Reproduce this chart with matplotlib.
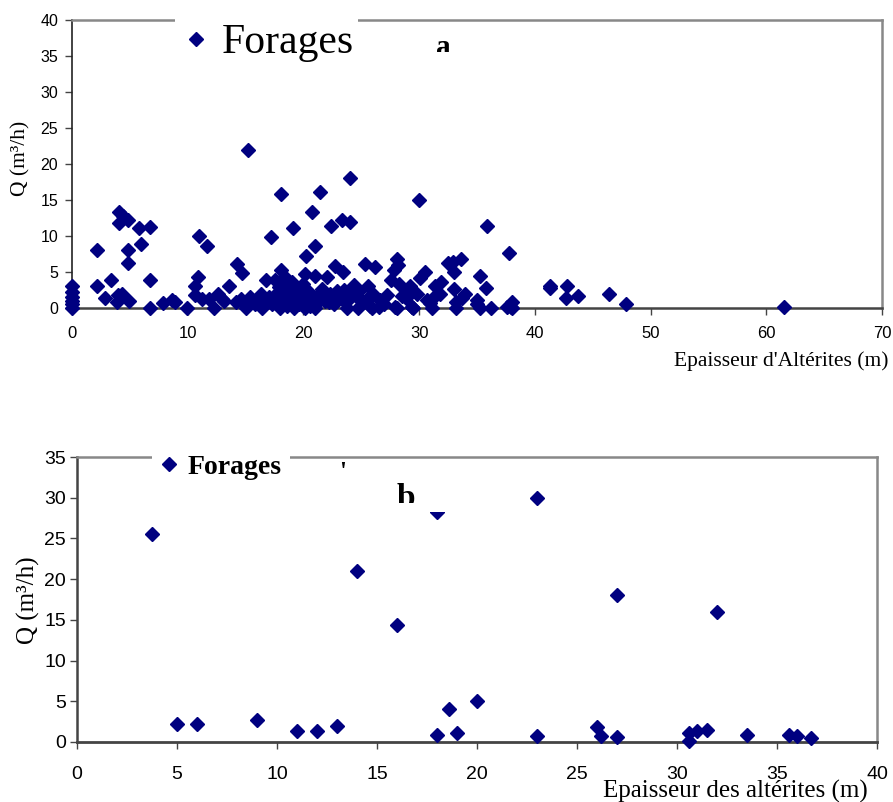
import matplotlib
matplotlib.use("Agg")
import matplotlib.pyplot as plt
from matplotlib.patches import Rectangle

# ---------------- data: chart a ----------------
xa = [0, 0, 0, 0, 0, 0,
      2.2, 2.2, 2.85, 3.4, 3.9, 4.0, 4.3, 4.4, 4.9, 4.1, 4.4, 4.1, 4.8, 4.8, 4.8,
      5.8, 6.7, 6.0, 6.7, 6.7, 7.9, 8.6, 8.9, 9.9,
      11.0, 11.7, 10.9, 10.6, 10.6, 11.2, 11.8, 12.6, 12.3, 13.1, 13.6, 13.0,
      14.3, 14.7, 15.2, 14.2, 14.6, 15.0, 15.05, 15.4, 15.8, 16.0, 16.4, 16.3,
      16.8, 17.5, 17.2, 17.0, 17.3, 17.8, 18.0, 18.1, 18.1, 18.3, 18.5, 18.2,
      18.4, 18.7, 18.9, 19.1, 19.2, 19.0, 19.4, 19.6, 19.8, 20.1, 20.1, 20.2,
      20.7, 20.3, 20.5, 20.8, 21.0, 21.0, 21.0, 21.4, 21.3, 21.6, 21.9, 22.0,
      22.4, 22.3, 22.7, 22.6, 23.0, 23.3, 23.4, 23.5, 23.8, 23.9, 24.0, 24.0,
      24.2, 24.7, 24.5, 25.0, 25.3, 25.6, 25.6, 25.75, 25.9, 26.2, 26.6, 27.0,
      16.6, 17.6, 18.6, 19.3, 19.8, 20.6, 18.8, 19.5, 17.9, 18.6, 19.1, 20.0,
      20.4, 21.5, 22.2, 22.9, 23.6, 24.4, 24.8, 26.0, 26.5, 27.2,
      27.6, 27.8, 28.1, 28.2, 28.3, 28.5, 28.9, 28.9, 27.9, 28.1, 29.2, 29.4,
      29.5, 29.8, 30.0, 30.1, 30.5, 30.65, 30.9, 31.1, 31.2, 31.4, 31.8, 31.9,
      32.5, 32.9, 33.0, 33.0, 33.2, 33.2, 33.6, 33.7, 34.0, 35.0, 35.0, 35.3,
      35.3, 35.75, 35.9, 36.2, 37.6, 37.8, 37.9, 38.0, 38.0, 29.35,
      41.3, 41.3, 42.8, 42.7, 43.75, 46.4, 47.9, 61.5]
qa = [0, 0.5, 1.0, 1.5, 2.2, 3.0,
      8.0, 3.1, 1.35, 3.9, 0.8, 1.8, 2.0, 1.6, 1.0, 13.4, 12.8, 11.8, 12.2, 8.0, 6.3,
      11.1, 11.3, 8.9, 3.9, 0.0, 0.65, 1.1, 0.9, 0.0,
      10.0, 8.6, 4.35, 3.0, 1.8, 1.3, 1.2, 2.0, 0.0, 1.0, 3.05, 1.2,
      6.1, 4.9, 22.0, 0.8, 1.2, 0.3, 0.0, 1.5, 0.5, 1.0, 0.0, 2.0,
      3.9, 3.9, 9.9, 1.5, 0.6, 2.2, 0.0, 5.3, 15.8, 4.3, 3.0, 1.5,
      0.8, 2.5, 1.0, 11.1, 0.0, 3.6, 1.8, 0.5, 2.8, 0.0, 4.7, 7.2,
      13.3, 1.3, 2.2, 0.6, 8.6, 4.4, 0.0, 16.1, 1.8, 2.6, 1.0, 4.3,
      11.4, 2.0, 5.8, 0.5, 1.5, 12.2, 5.0, 2.5, 0.0, 1.3, 18.0, 11.9,
      2.8, 0.0, 1.8, 1.0, 6.1, 3.0, 1.35, 0.3, 0.0, 5.7, 1.1, 0.5,
      0.9, 1.2, 0.3, 1.2, 0.9, 0.3, 1.8, 2.5, 2.9, 4.0, 3.0, 3.3,
      1.7, 1.2, 0.9, 2.3, 0.8, 3.2, 2.3, 2.0, 0.2, 1.8,
      3.9, 5.3, 6.75, 6.0, 3.4, 1.65, 1.35, 2.5, 0.1, 0.0, 3.0, 0.1,
      0.0, 2.0, 15.0, 4.1, 5.05, 1.1, 0.65, 0.0, 1.35, 3.0, 2.0, 3.65,
      6.2, 6.4, 5.0, 2.7, 0.9, 0.0, 6.75, 1.35, 2.0, 1.1, 0.55, 4.4,
      0.0, 2.8, 11.35, 0.0, 0.1, 7.7, 0.1, 0.9, 0.0, 0.2,
      3.1, 2.8, 3.1, 1.35, 1.65, 1.95, 0.5, 0.1]

# ---------------- data: chart b ----------------
xb = [3.75, 5.0, 6.0, 9.0, 11.0, 12.0, 13.0, 14.0, 16.0, 18.0, 18.0, 18.6,
      19.0, 20.0, 23.0, 23.0, 26.0, 26.2, 27.0, 27.0, 30.6, 30.6, 31.0, 31.5,
      32.0, 33.5, 35.6, 36.0, 36.7]
qb = [25.5, 2.2, 2.2, 2.7, 1.35, 1.4, 2.0, 21.0, 14.4, 0.9, 28.2, 4.0,
      1.05, 5.0, 30.0, 0.77, 1.8, 0.73, 18.05, 0.65, 1.06, 0.16, 1.4, 1.47,
      16.0, 0.86, 0.86, 0.74, 0.45]

xticks_a = list(range(0, 71, 10))
yticks_a = list(range(0, 41, 5))
xticks_b = list(range(0, 41, 5))
yticks_b = list(range(0, 36, 5))

series_label = "Forages"
navy = "#000080"
W, H = 893, 802

SERIF = ["Liberation Serif", "DejaVu Serif"]
SANS = ["Liberation Sans", "DejaVu Sans"]
NARROW = ["Liberation Sans Narrow", "Liberation Sans", "DejaVu Sans"]

fig = plt.figure(figsize=(W / 100, H / 100), dpi=100)


def fx(px):
    return px / W


def fy(py):
    return 1 - py / H


def style_axes(ax, lw_main=1.8):
    for s in ("top", "right"):
        ax.spines[s].set_color("#888888")
        ax.spines[s].set_linewidth(1.8)
    ax.spines["left"].set_color("#222222")
    ax.spines["left"].set_linewidth(1.2)
    ax.spines["bottom"].set_color("#444444")
    ax.spines["bottom"].set_linewidth(lw_main)
    ax.tick_params(direction="out", length=5, width=1.0, color="#444444")


# ---------------- chart a ----------------
ax1 = fig.add_axes([fx(72), fy(308), fx(882 - 72), (308 - 20) / H])
line_a, = ax1.plot(xa, qa, ls="none", marker="D", ms=7.4, color=navy,
                   mec=navy, clip_on=False, zorder=3)
ax1.set_xlim(0, 70)
ax1.set_ylim(0, 40)
ax1.set_xticks(xticks_a)
ax1.set_yticks(yticks_a)
ax1.set_xticklabels([str(t) for t in xticks_a], family=NARROW, fontsize=12)
ax1.set_yticklabels([str(t) for t in yticks_a], family=SANS, fontsize=11.5)
style_axes(ax1)
ax1.tick_params(axis="x", pad=8)
ax1.tick_params(axis="y", pad=5)

fig.text(fx(21), fy(158), "Q (m³/h)", rotation=90, ha="center", va="center",
         family=SERIF, fontsize=15.5)
fig.text(fx(888), fy(361), "Epaisseur d'Altérites (m)", ha="right", va="center",
         family=SERIF, fontsize=15.5)

# white box of the legend cutting the top border
fig.patches.append(Rectangle((fx(175), fy(27)), fx(358 - 175), 14 / H,
                             transform=fig.transFigure, facecolor="white",
                             edgecolor="none", zorder=2))
fig.legend([line_a], [series_label], loc="center left",
           bbox_to_anchor=(fx(188), fy(43)), bbox_transform=fig.transFigure,
           frameon=False, borderpad=0, borderaxespad=0, handlelength=0.4,
           handletextpad=0.4, prop={"family": SERIF, "size": 30},
           markerscale=0.95)

# clipped panel letter "a"
fig.text(fx(436), fy(55), "a", ha="left", va="baseline", family=SERIF,
         fontsize=21, fontweight="bold", zorder=3)
fig.patches.append(Rectangle((fx(425), fy(66)), fx(35), 13.5 / H,
                             transform=fig.transFigure, facecolor="white",
                             edgecolor="none", zorder=4))

# ---------------- chart b ----------------
ax2 = fig.add_axes([fx(77), fy(742), fx(877 - 77), (742 - 457) / H])
line_b, = ax2.plot(xb, qb, ls="none", marker="D", ms=7.6, color=navy,
                   mec=navy, clip_on=False, zorder=3)
ax2.set_xlim(0, 40)
ax2.set_ylim(0, 35)
ax2.set_xticks(xticks_b)
ax2.set_yticks(yticks_b)
ax2.set_xticklabels([str(t) for t in xticks_b], family=SANS, fontsize=14)
ax2.set_yticklabels([str(t) for t in yticks_b], family=SANS, fontsize=14)
style_axes(ax2, lw_main=2.0)
ax2.spines["left"].set_color("#444444")
ax2.spines["left"].set_linewidth(1.8)
ax2.tick_params(axis="x", pad=12)
ax2.tick_params(axis="y", pad=3)

fig.text(fx(28), fy(600), "Q (m³/h)", rotation=90, ha="center", va="center",
         family=SERIF, fontsize=18)
fig.text(fx(868), fy(798), "Epaisseur des altérites (m)", ha="right",
         va="baseline", family=SERIF, fontsize=18)

fig.patches.append(Rectangle((fx(152), fy(464)), fx(290 - 152), 14 / H,
                             transform=fig.transFigure, facecolor="white",
                             edgecolor="none", zorder=2))
fig.legend([line_b], [series_label], loc="center left",
           bbox_to_anchor=(fx(163), fy(467)), bbox_transform=fig.transFigure,
           frameon=False, borderpad=0, borderaxespad=0, handlelength=0.45,
           handletextpad=0.45, prop={"family": SERIF, "size": 20, "weight": "bold"},
           markerscale=0.95)

# clipped fragments "'" and "b"
fig.text(fx(343), fy(461), "'", ha="center", va="top", family=SERIF,
         fontsize=18, fontweight="bold", zorder=3)
fig.text(fx(397), fy(507), "b", ha="left", va="baseline", family=SERIF,
         fontsize=24, fontweight="bold", zorder=3)
fig.patches.append(Rectangle((fx(388), fy(512)), fx(62), 9.5 / H,
                             transform=fig.transFigure, facecolor="white",
                             edgecolor="none", zorder=4))

fig.savefig("out.png", dpi=100)
